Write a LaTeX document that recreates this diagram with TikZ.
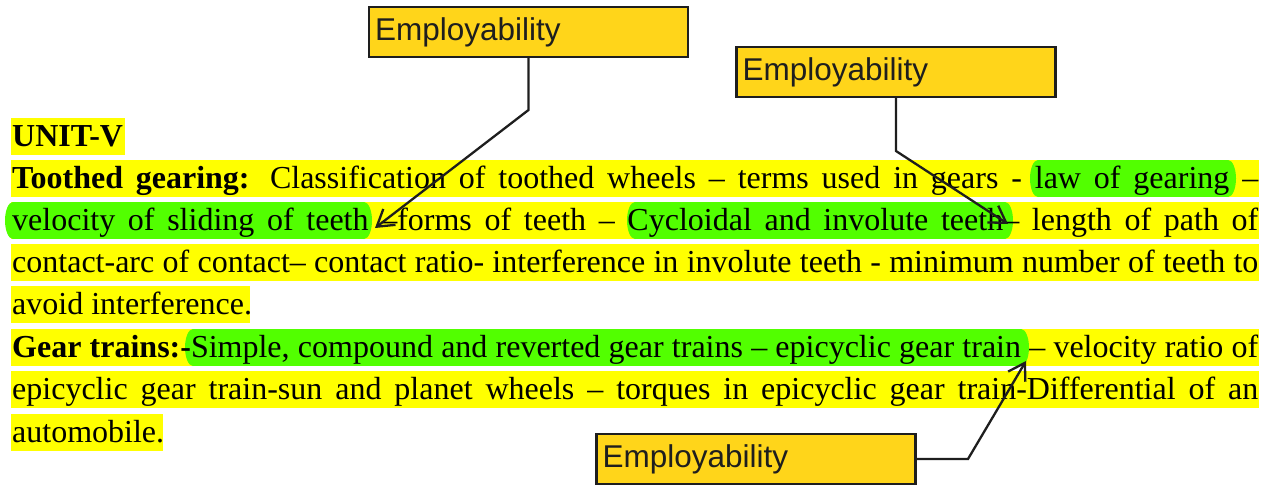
\documentclass[tikz,border=0pt]{standalone}
\usepackage{fontspec}
\setmainfont{Liberation Serif}
\newfontfamily\labelfont{Liberation Sans}
\usetikzlibrary{arrows.meta}
\definecolor{hlyellow}{RGB}{255,255,0}
\definecolor{hlgreen}{RGB}{82,255,0}
\definecolor{boxgold}{RGB}{255,213,26}
\definecolor{ink}{RGB}{30,30,30}

% highlighted row: left, right, top
\newcommand\hlrow[3]{\fill[hlyellow] (#1,#3) rectangle (#2,#3+37);}
% rounded green marker: left, right, top
\newcommand\hlpill[3]{%
  \fill[hlgreen] (#1+8,#3) rectangle (#2-8,#3+37);
  \fill[hlgreen] (#1+8,#3+18.5) ellipse [x radius=8, y radius=18.5];
  \fill[hlgreen] (#2-8,#3+18.5) ellipse [x radius=8, y radius=18.5];}
% justified line of body text
\newcommand\jline[1]{\makebox[1246pt][s]{#1}}

\begin{document}
\begin{tikzpicture}[x=1pt,y=-1pt,
  txt/.style={anchor=base west, inner sep=0pt, font=\fontsize{32}{38}\selectfont},
  tag/.style={draw=ink, line width=2.4pt, fill=boxgold, minimum width=319pt,
    minimum height=50pt, text width=307pt, align=left, inner sep=6pt,
    font=\labelfont\fontsize{31.5}{36}\selectfont, text=ink},
  conn/.style={draw=ink, line width=2.3pt, line join=miter,
    -{Straight Barb[length=16pt,width=20pt]}}]
\useasboundingbox (0,0) rectangle (1270,485);

% highlight bands
\hlrow{11}{125}{118}
\hlrow{11}{1259}{160}
\hlrow{11}{1259}{202}
\hlrow{11}{1259}{244}
\hlrow{11}{250}{286}
\hlrow{11}{1259}{329}
\hlrow{11}{1259}{371}
\hlrow{11}{163}{414}

% green markers
\hlpill{1030}{1236}{160}
\hlpill{5}{372}{202}
\hlpill{627}{1013}{202}
\hlpill{185}{1029}{329}

% body text
\node[txt] (l0) at (12,146.5) {\textbf{UNIT-V}};
\node[txt] (l1) at (12,188.5) {\jline{\textbf{Toothed gearing:} Classification of toothed wheels – terms used in gears - law of gearing –}};
\node[txt] (l2) at (12,230.5) {\jline{velocity of sliding of teeth –forms of teeth – Cycloidal and involute teeth– length of path of}};
\node[txt] (l3) at (12,272.5) {\jline{contact-arc of contact– contact ratio- interference in involute teeth - minimum number of teeth to}};
\node[txt] (l4) at (12,314.5) {avoid interference.};
\node[txt] (l5) at (12,357.5) {\jline{\textbf{Gear trains:-}Simple, compound and reverted gear trains – epicyclic gear train – velocity ratio of}};
\node[txt] (l6) at (12,399.5) {\jline{epicyclic gear train-sun and planet wheels – torques in epicyclic gear train-Differential of an}};
\node[txt] (l7) at (12,442.5) {automobile.};

% callout boxes
\node[tag] (b1) at (528.5,32) {Employability};
\node[tag] (b2) at (896,72) {Employability};
\node[tag] (b3) at (756,459) {Employability};

% bends and targets of the callout lines
\coordinate (k1) at (528.5,110);
\coordinate (t1) at (375,228);
\coordinate (k2) at (896,151);
\coordinate (t2) at (1008,224);
\coordinate (k3) at (968,459);
\coordinate (t3) at (1026,361);

\draw[conn] (b1.south) -- (k1) -- (t1);
\draw[conn] (b2.south) -- (k2) -- (t2);
\draw[conn] (b3.east) -- (k3) -- (t3);
\end{tikzpicture}
\end{document}
